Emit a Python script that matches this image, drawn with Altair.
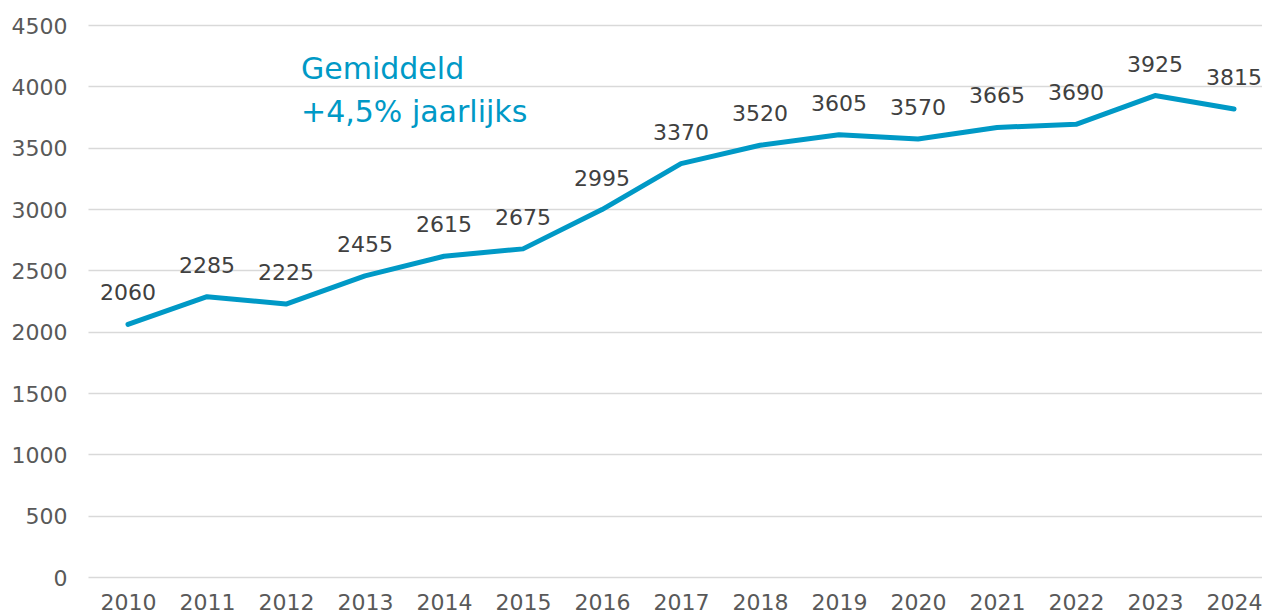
import altair as alt
import pandas as pd

years = [2010, 2011, 2012, 2013, 2014, 2015, 2016, 2017, 2018, 2019, 2020, 2021, 2022, 2023, 2024]
values = [2060, 2285, 2225, 2455, 2615, 2675, 2995, 3370, 3520, 3605, 3570, 3665, 3690, 3925, 3815]
y_ticks = [0, 500, 1000, 1500, 2000, 2500, 3000, 3500, 4000, 4500]
annotation = ["Gemiddeld", "+4,5% jaarlijks"]

df = pd.DataFrame({"jaar": years, "waarde": values})

LINE = "#0099c6"
FONT = "DejaVu Sans"

x = alt.X("jaar:Q",
          scale=alt.Scale(domain=[2009.4937, 2024.354], nice=False, zero=False),
          axis=alt.Axis(values=years, format="d", title=None, grid=False, domain=False,
                        ticks=False, tickSize=0, labelFont=FONT, labelFontSize=22,
                        labelColor="#595959", labelBaseline="alphabetic", labelPadding=32,
                        labelFlush=False, labelOverlap=False))
y = alt.Y("waarde:Q",
          scale=alt.Scale(domain=[0, 4500], nice=False),
          axis=alt.Axis(values=y_ticks, format="d", title=None, grid=True, gridColor="#d9d9d9",
                        gridWidth=1.3, domain=False, ticks=False, tickSize=0,
                        labelFont=FONT, labelFontSize=22, labelColor="#595959",
                        labelBaseline="alphabetic", labelOffset=8, labelPadding=21,
                        labelFlush=False))

base = alt.Chart(df)

line = base.mark_line(color=LINE, strokeWidth=5, strokeCap="round", strokeJoin="round").encode(x=x, y=y)

labels = base.mark_text(font=FONT, fontSize=22, color="#404040", align="center",
                        baseline="alphabetic", dy=-24).encode(
    x="jaar:Q", y="waarde:Q", text=alt.Text("waarde:Q", format="d"))

note = alt.Chart(pd.DataFrame({"t": [annotation]})).mark_text(
    font=FONT, fontSize=30, color=LINE, align="left", baseline="alphabetic",
    lineHeight=43).encode(
    x=alt.datum(2012.19), y=alt.datum(4060), text="t")

chart = alt.layer(line, labels, note).properties(
    width=1174, height=552,
    autosize=alt.AutoSizeParams(type="none"),
    padding={"left": 80, "top": 17, "right": 0, "bottom": 40},
).configure_view(stroke=None)

chart.save("out.html", embed_options={"renderer": "svg", "actions": False})
